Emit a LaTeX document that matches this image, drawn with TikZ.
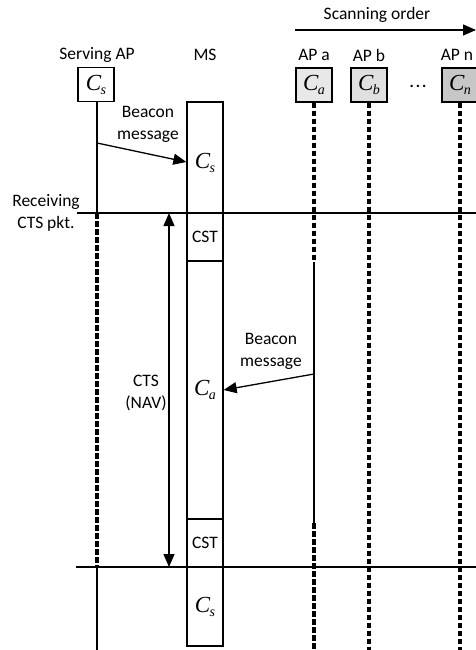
\documentclass[tikz,border=0pt]{standalone}
\usepackage{fontspec}
\setmainfont{Carlito}
\newfontfamily\tmsfont{Liberation Serif}
\usetikzlibrary{arrows.meta}
\newcommand{\Cx}[1]{{\tmsfont\itshape\fontsize{23}{23}\selectfont C\kern-0.5pt\raisebox{-4pt}{\fontsize{14}{14}\selectfont #1}}}
\begin{document}
\begin{tikzpicture}[x=1pt,y=-1pt,
  lbl/.style={font=\fontsize{17.5}{22}\selectfont, align=center, inner sep=0pt},
  apbox/.style={draw, line width=1.4pt, minimum width=36pt, minimum height=34pt, inner sep=0pt},
  cell/.style={draw, line width=1.3pt, minimum width=36pt, inner sep=0pt},
  life/.style={line width=1.2pt},
  dashlife/.style={line width=3.2pt, dash pattern=on 5.5pt off 2.5pt},
  hline/.style={line width=1.5pt},
  msg/.style={line width=1.3pt, -{Triangle[length=13pt,width=11pt]}},
  nav/.style={line width=1.3pt, {Triangle[length=13pt,width=11pt]}-{Triangle[length=13pt,width=11pt]}}
]
\useasboundingbox (0,0) rectangle (475,650);
% scanning order
\node[lbl] (scan) at (377,15) {Scanning order};
\coordinate (scanA) at (295,30);
\coordinate (scanB) at (476,30);
\draw[msg] (scanA) -- (scanB);
% labels
\node[lbl] (lserv) at (97,55) {Serving AP};
\node[lbl] (lms) at (205,55) {MS};
\node[lbl] (lapa) at (314,55) {AP a};
\node[lbl] (lapb) at (369,55) {AP b};
\node[lbl] (lapn) at (457,55) {AP n};
% AP boxes
\node[apbox, fill=white] (serv) at (96,84.5) {\Cx{s}};
\node[apbox, fill=black!9] (apa) at (314,85) {\Cx{a}};
\node[apbox, fill=black!12] (apb) at (369,85) {\Cx{b}};
\node[apbox, fill=black!22] (apn) at (460,85) {\Cx{n}};
\node[inner sep=0pt, font=\bfseries\fontsize{16}{16}\selectfont] (dots) at (418,86) {.\kern2pt.\kern2pt.};
% MS column
\node[cell, minimum height=111pt] (m1) at (205,157.5) {};
\node[inner sep=0pt] (m1t) at (205,163) {\Cx{s}};
\node[cell, minimum height=48pt, lbl] (m2) at (205,237) {CST};
\node[cell, minimum height=258pt] (m3) at (205,390) {\Cx{a}};
\node[cell, minimum height=48pt, lbl] (m4) at (205,543) {CST};
\node[cell, minimum height=79pt] (m5) at (205,606.5) {\Cx{s}};
% horizontal lines
\coordinate (h1a) at (77,213);
\coordinate (h1b) at (476,213);
\coordinate (h2a) at (76,567);
\coordinate (h2b) at (476,567);
\draw[hline] (h1a) -- (h1b);
\draw[hline] (h2a) -- (h2b);
\node[lbl] (recv) at (46,213) {Receiving\\CTS pkt.};
% serving AP lifeline
\coordinate (s1) at (97,213);
\coordinate (s2) at (97,567);
\coordinate (s3) at (97,652);
\draw[life] (serv.south -| s1) -- (s1);
\draw[dashlife] (s1) -- (s2);
\draw[life] (s2) -- (s3);
% AP a lifeline
\coordinate (a1) at (314,262);
\coordinate (a2) at (314,523);
\coordinate (a3) at (314,652);
\draw[dashlife] (apa.south) -- (a1);
\draw[life] (a1) -- (a2);
\draw[dashlife] (a2) -- (a3);
% AP b, AP n lifelines
\coordinate (b3) at (369,652);
\coordinate (n3) at (460,652);
\draw[dashlife] (apb.south) -- (b3);
\draw[dashlife] (apn.south) -- (n3);
% beacon messages
\coordinate (bm1) at (97,143);
\coordinate (bm2) at (314,374);
\draw[msg] (bm1) -- (m1.west |- 0,162);
\draw[msg] (bm2) -- (m3.east |- 0,390);
\node[lbl] (bt1) at (148,124) {Beacon\\message};
\node[lbl] (bt2) at (271,351) {Beacon\\message};
% CTS NAV
\coordinate (n1) at (169,213);
\coordinate (n2) at (169,567);
\draw[nav] (n1) -- (n2);
\node[lbl] (ctsl) at (146,393) {CTS\\(NAV)};
\end{tikzpicture}
\end{document}
